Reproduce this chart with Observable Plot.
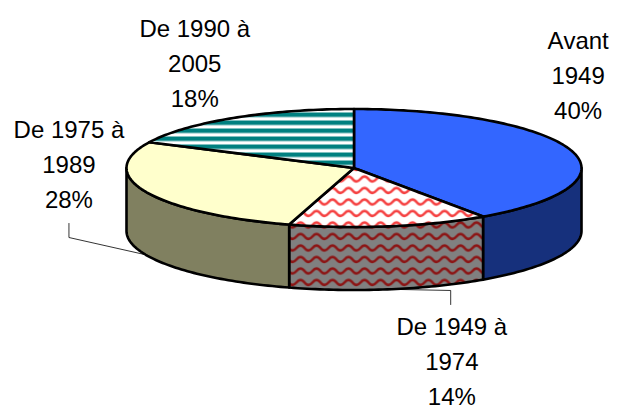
<!DOCTYPE html>
<html>
<head>
<meta charset="utf-8">
<script src="https://cdn.jsdelivr.net/npm/d3@7"></script>
<script src="https://cdn.jsdelivr.net/npm/@observablehq/plot@0.6"></script>
<style>
html,body{margin:0;padding:0;background:#fff}
svg{display:block}
</style>
</head>
<body>
<div id="chart"></div>
<script>
// Data, clockwise from twelve o'clock (slice sizes; labels show them rounded)
const labels = ["Avant\n1949", "De 1949 à\n1974", "De 1975 à\n1989", "De 1990 à\n2005"];
const shares = [40.4, 14.2, 27.6, 17.8];

// Styling and layout, in the unit-ellipse coordinates of the x and y scales
const topFills = ["#3366ff", "url(#waveTop)", "#ffffcc", "url(#stripes)"];
const sideFills = ["#16307c", "url(#waveSide)", "#808060", "#0b4040"];
const labelX = [0.985, 0.43, -1.253, -0.70];
const labelY = [-1.618, 3.232, -0.108, -1.822];
const depth = 1.068;
const FULL = 2 * Math.PI;

let acc = 0;
const slices = shares.map((v, i) => {
  const a0 = acc / 100 * FULL;
  acc += v;
  return {i, a0, a1: acc / 100 * FULL, mid: (a0 + (acc / 100 * FULL)) / 2};
});
const rim = (a, dy = 0) => ({x: Math.sin(a), y: -Math.cos(a) + dy});
const arc = (a0, a1, dy = 0) => {
  const n = Math.max(2, Math.ceil(Math.abs(a1 - a0) / 0.02));
  return d3.range(n + 1).map(k => rim(a0 + (a1 - a0) * k / n, dy));
};

const topShape = s => [{x: 0, y: 0}, ...arc(s.a0, s.a1)];
const sideShape = s => {
  const a0 = Math.max(s.a0, Math.PI / 2), a1 = Math.min(s.a1, 3 * Math.PI / 2);
  if (a1 <= a0) return null;
  return [...arc(a0, a1), ...arc(a1, a0, depth)];
};

const lineStyle = {x: "x", y: "y", curve: "linear-closed", stroke: "#000", strokeWidth: 2.6, strokeLinejoin: "round"};

// Leader lines start from the bottom rim of their slice
const r28 = rim(slices[2].mid, depth), r14 = rim(slices[1].mid, depth);
const leader28 = [{x: -1.253, y: 0.94}, {x: -1.253, y: 1.178}, r28];
const leader14 = [r14, {x: 0.425, y: 2.076}, {x: 0.425, y: 2.314}];

const labelRows = labels.map((t, i) => ({text: `${t}\n${Math.round(shares[i])}%`, x: labelX[i], y: labelY[i]}));

const chart = Plot.plot({
  width: 617, height: 405,
  margin: 0,
  style: {background: "#fff", overflow: "visible", fontKerning: "none"},
  x: {domain: [-1, 1], range: [126, 581], axis: null},
  y: {domain: [-1, 1], range: [108.5, 226.5], axis: null},
  marks: [
    Plot.line(leader28, {x: "x", y: "y", stroke: "#000", strokeWidth: 0.8}),
    Plot.line(leader14, {x: "x", y: "y", stroke: "#000", strokeWidth: 0.8}),
    ...slices.filter(s => sideShape(s)).map(s =>
      Plot.line(sideShape(s), {...lineStyle, fill: sideFills[s.i]})),
    ...slices.map(s =>
      Plot.line(topShape(s), {...lineStyle, fill: topFills[s.i]})),
    Plot.text(labelRows, {
      x: "x", y: "y", text: "text",
      fontFamily: "Liberation Sans, Arial, sans-serif",
      fontSize: 24, lineHeight: 1.46, fill: "#000", textAnchor: "middle", lineAnchor: "middle"
    })
  ]
});

const defs = d3.select(chart).insert("defs", ":first-child");
const wave = "M-8,6 Q-4,1 0,6 T8,6 T16,6 T24,6";
function wavePattern(id, bg, ink) {
  const p = defs.append("pattern").attr("id", id).attr("patternUnits", "userSpaceOnUse")
    .attr("width", 16).attr("height", 11.5);
  p.append("rect").attr("width", 16).attr("height", 11.5).attr("fill", bg);
  p.append("path").attr("d", wave).attr("fill", "none").attr("stroke", ink).attr("stroke-width", 2.6);
}
wavePattern("waveTop", "#fff", "#f54040");
wavePattern("waveSide", "#808080", "#8c1414");
const st = defs.append("pattern").attr("id", "stripes").attr("patternUnits", "userSpaceOnUse")
  .attr("width", 8).attr("height", 8);
st.append("rect").attr("width", 8).attr("height", 8).attr("fill", "#fff");
st.append("rect").attr("width", 8).attr("height", 4.5).attr("fill", "#008080");

document.getElementById("chart").appendChild(chart);
</script>
</body>
</html>
